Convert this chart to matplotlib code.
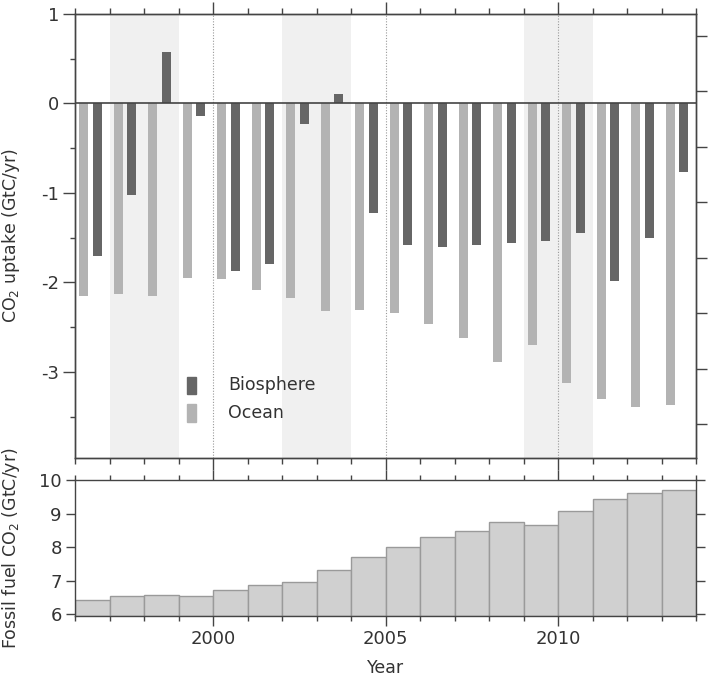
import numpy as np
import matplotlib
matplotlib.use("Agg")
import matplotlib.pyplot as plt
from matplotlib.ticker import MultipleLocator, FixedLocator, NullFormatter
from matplotlib.patches import Rectangle

# ---------------- data ----------------
years = [1996, 1997, 1998, 1999, 2000, 2001, 2002, 2003, 2004,
         2005, 2006, 2007, 2008, 2009, 2010, 2011, 2012, 2013]
ocean = [-2.15, -2.13, -2.15, -1.95, -1.96, -2.08, -2.17, -2.32, -2.31,
         -2.34, -2.46, -2.62, -2.89, -2.70, -3.12, -3.30, -3.39, -3.37]
biosphere = [-1.70, -1.02, 0.58, -0.14, -1.87, -1.80, -0.23, 0.11, -1.22,
             -1.58, -1.60, -1.58, -1.56, -1.54, -1.45, -1.99, -1.50, -0.77]
fossil = [6.42, 6.54, 6.56, 6.54, 6.71, 6.87, 6.96, 7.33, 7.70,
          8.01, 8.30, 8.47, 8.74, 8.65, 9.08, 9.45, 9.62, 9.72]
shade_periods = [(1997, 1999), (2002, 2004), (2009, 2011)]
dotted_years = [2000, 2005, 2010]
labeled_years = [2000, 2005, 2010]
legend_labels = ["Biosphere", "Ocean"]

# ---------------- style ----------------
TXT = "#333333"
SP = "#444444"
C_OCEAN = "#b3b3b3"
C_BIO = "#666666"
plt.rcParams["font.family"] = ["DejaVu Sans"]
plt.rcParams["font.size"] = 13
plt.rcParams["text.color"] = TXT
plt.rcParams["axes.labelcolor"] = TXT
plt.rcParams["xtick.color"] = SP
plt.rcParams["ytick.color"] = SP
plt.rcParams["xtick.labelcolor"] = TXT
plt.rcParams["ytick.labelcolor"] = TXT

W, H = 708, 685
fig = plt.figure(figsize=(W / 100, H / 100), dpi=100)

def fx(px):
    return px / W

def fy(py):
    return 1 - py / H

L, R = 75, 696
ax1 = fig.add_axes([fx(L), fy(457.7), fx(R - L), fy(14) - fy(457.7)])
ax2 = fig.add_axes([fx(L), fy(615.7), fx(R - L), fy(480.3) - fy(615.7)])

yrs = np.array(years, dtype=float)

# ---------------- top panel ----------------
for a, b in shade_periods:
    ax1.axvspan(a, b, color="#f0f0f0", lw=0, zorder=0)
for y in dotted_years:
    ax1.axvline(y, color="#999999", ls=(0, (1, 1.5)), lw=0.8, zorder=1)

bw = 0.26
ax1.bar(yrs + 0.25, ocean, width=bw, color=C_OCEAN, zorder=2)
ax1.bar(yrs + 0.65, biosphere, width=bw, color=C_BIO, zorder=2)
ax1.axhline(0, color=SP, lw=1.2, zorder=3)

ax1.set_xlim(1996, 2014)
ax1.set_ylim(-3.96, 1.0)
ax1.xaxis.set_major_locator(FixedLocator(labeled_years))
ax1.xaxis.set_minor_locator(MultipleLocator(1))
ax1.yaxis.set_major_locator(MultipleLocator(1))
ax1.yaxis.set_minor_locator(MultipleLocator(0.5))
ax1.tick_params(axis="x", which="both", top=True, bottom=True, direction="out",
                labelbottom=False, width=1.0)
ax1.tick_params(axis="x", which="major", length=8.5)
ax1.tick_params(axis="x", which="minor", length=4.5)
ax1.tick_params(axis="y", which="major", length=8.5, width=1.0, direction="out", labelsize=13, pad=3)
ax1.tick_params(axis="y", which="minor", length=3.8, width=1.0, direction="out")
ax1.set_yticks([1, 0, -1, -2, -3])
ax1.set_yticklabels(["1", "0", "-1", "-2", "-3"])
for s in ax1.spines.values():
    s.set_color(SP)
    s.set_linewidth(1.0)
ax1.set_ylabel("CO$_2$ uptake (GtC/yr)", fontsize=12.5)
ax1.yaxis.set_label_coords(-0.085, 0.5)

# right axis of the top panel (unlabelled ticks)
ax1r = ax1.twinx()
ax1r.set_ylim(-0.608, 7.394)
ax1r.yaxis.set_major_locator(MultipleLocator(1))
ax1r.yaxis.set_major_formatter(NullFormatter())
ax1r.tick_params(axis="y", length=8.0, width=1.0, direction="out")
for s in ax1r.spines.values():
    s.set_color(SP)
    s.set_linewidth(1.0)

# legend
for i, (lab, col) in enumerate(zip(legend_labels, [C_BIO, C_OCEAN])):
    y0 = [0.1436, 0.0811][i]
    ax1.add_patch(Rectangle((0.180, y0), 0.0145, 0.039, transform=ax1.transAxes,
                            color=col, zorder=4))
    ax1.text(0.2464, y0 + 0.0195, lab, transform=ax1.transAxes, fontsize=12.5,
             va="center", ha="left", color=TXT)

# ---------------- bottom panel ----------------
base = 5.95
ax2.bar(yrs, np.array(fossil) - base, bottom=base, width=1.0, align="edge",
        color="#d0d0d0", edgecolor="#9a9a9a", linewidth=1.0, zorder=2)
ax2.set_xlim(1996, 2014)
ax2.set_ylim(base, 10.0)
ax2.xaxis.set_major_locator(FixedLocator(labeled_years))
ax2.xaxis.set_minor_locator(MultipleLocator(1))
ax2.set_yticks([6, 7, 8, 9, 10])
ax2.tick_params(axis="x", which="both", top=True, bottom=True, direction="out", width=1.0)
ax2.tick_params(axis="x", which="major", length=7, labelsize=13)
ax2.tick_params(axis="x", which="minor", length=3.8)
ax2.tick_params(axis="y", which="major", left=True, right=True, direction="out",
                length=6.5, width=1.0, labelsize=13, pad=3)
for s in ax2.spines.values():
    s.set_color(SP)
    s.set_linewidth(1.0)
ax2.set_ylabel("Fossil fuel CO$_2$ (GtC/yr)", fontsize=12.5)
ax2.yaxis.set_label_coords(-0.085, 0.5)
ax2.set_xlabel("Year", fontsize=12.5, labelpad=8)

fig.savefig("out.png", dpi=100)
